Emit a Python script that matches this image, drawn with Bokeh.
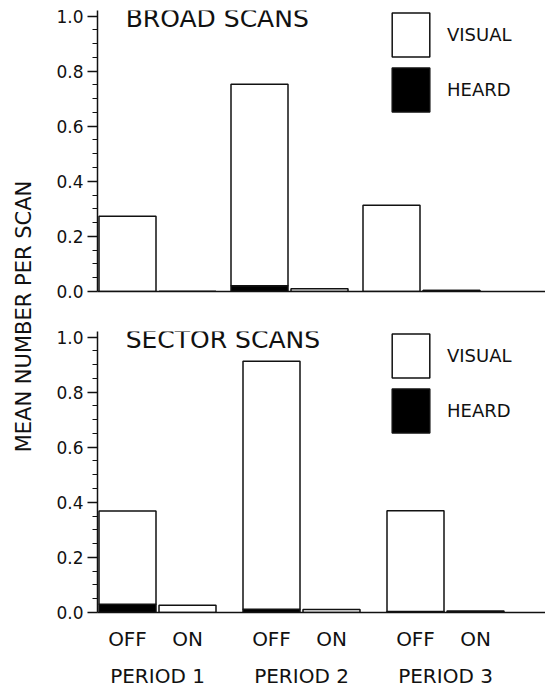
import math

from bokeh.core.properties import value
from bokeh.embed import file_html
from bokeh.layouts import column, row
from bokeh.models import (ColumnDataSource, FixedTicker, Label, Legend,
                          LegendItem, LinearAxis, PrintfTickFormatter, Range1d)
from bokeh.plotting import figure
from bokeh.resources import INLINE

# ---- data -------------------------------------------------------------
periods = ["PERIOD 1", "PERIOD 2", "PERIOD 3"]
states = ["OFF", "ON"]

# mean number per scan, in bar order: P1 OFF, P1 ON, P2 OFF, P2 ON, P3 OFF, P3 ON
broad_visual = [0.273, 0.0, 0.731, 0.010, 0.313, 0.0]
broad_heard = [0.0, 0.0, 0.021, 0.0, 0.0, 0.004]
sector_visual = [0.338, 0.026, 0.900, 0.011, 0.365, 0.005]
sector_heard = [0.030, 0.0, 0.012, 0.0, 0.004, 0.0]

y_ticks = [0.0, 0.2, 0.4, 0.6, 0.8, 1.0]

# ---- style ------------------------------------------------------------
FONT = "DejaVu Sans"
INK = "#111111"
UNIT_PX = 60          # pixels per bar slot
FRAME_W = 448
FRAME_H = 281
BAR_W = 0.95


def bar_centers(step):
    return [round(g * step + s + 0.5, 3) for g in range(len(periods)) for s in range(len(states))]


def group_centers(step):
    return [round(g * step + 1.0, 3) for g in range(len(periods))]


def make_panel(title, visual, heard, step, with_labels, border_top, border_bottom):
    xs = bar_centers(step)
    totals = [h + v for h, v in zip(heard, visual)]
    src = ColumnDataSource(dict(x=xs, heard=heard, total=totals))

    p = figure(frame_width=FRAME_W, frame_height=FRAME_H,
               x_range=Range1d(0, FRAME_W / UNIT_PX), y_range=Range1d(0, 1.02),
               x_axis_type=None, y_axis_type=None,
               output_backend="svg", toolbar_location=None,
               min_border_left=52, min_border_right=0,
               min_border_top=border_top, min_border_bottom=border_bottom)
    p.outline_line_color = None
    p.background_fill_color = "white"

    minor = [round(i * 0.05, 2) for i in range(21) if i % 4]
    yaxis = LinearAxis(ticker=FixedTicker(ticks=y_ticks, minor_ticks=minor),
                       formatter=PrintfTickFormatter(format="%.1f"),
                       axis_line_width=1.5, axis_line_color=INK,
                       major_tick_out=10, major_tick_in=0, major_tick_line_width=1.5,
                       major_tick_line_color=INK,
                       minor_tick_out=5, minor_tick_in=0, minor_tick_line_color=INK,
                       major_label_standoff=4,
                       major_label_text_font=FONT, major_label_text_font_size="17px",
                       major_label_text_color=INK)
    p.add_layout(yaxis, "left")

    if with_labels:
        xaxis = LinearAxis(ticker=FixedTicker(ticks=xs),
                           major_label_overrides={x: states[i % 2] for i, x in enumerate(xs)},
                           axis_line_width=1.5, axis_line_color=INK,
                           major_tick_out=0, major_tick_in=0, minor_tick_out=0, minor_tick_in=0,
                           major_label_standoff=14,
                           major_label_text_font=FONT, major_label_text_font_size="20px",
                           major_label_text_color=INK)
        p.add_layout(xaxis, "below")
        gc = group_centers(step)
        gaxis = LinearAxis(ticker=FixedTicker(ticks=gc),
                           major_label_overrides={x: periods[i] for i, x in enumerate(gc)},
                           axis_line_color=None,
                           major_tick_out=0, major_tick_in=0, minor_tick_out=0, minor_tick_in=0,
                           major_label_standoff=10,
                           major_label_text_font=FONT, major_label_text_font_size="20px",
                           major_label_text_color=INK)
        p.add_layout(gaxis, "below")
    else:
        xaxis = LinearAxis(ticker=FixedTicker(ticks=[]),
                           axis_line_width=1.5, axis_line_color=INK,
                           major_tick_out=0, major_tick_in=0, minor_tick_out=0, minor_tick_in=0,
                           major_label_text_font_size="0px")
        p.add_layout(xaxis, "below")

    r_heard = p.vbar(x="x", width=BAR_W, bottom=0, top="heard", source=src,
                     fill_color="black", line_color=INK, line_width=1.5)
    r_vis = p.vbar(x="x", width=BAR_W, bottom="heard", top="total", source=src,
                   fill_color="white", line_color=INK, line_width=1.5)

    # legend swatches are inset 10% inside their slot, so the slots are sized up
    legend = Legend(items=[LegendItem(label="VISUAL", renderers=[r_vis]),
                           LegendItem(label="HEARD", renderers=[r_heard])],
                    location=(290, 174), orientation="vertical",
                    glyph_width=47, glyph_height=55, spacing=-3, padding=0, margin=0,
                    label_standoff=13, border_line_alpha=0, background_fill_alpha=0,
                    label_text_font=FONT, label_text_font_size="18px",
                    label_text_color=INK)
    p.add_layout(legend)

    p.add_layout(Label(x=0.47, y=0.99, text=title, text_font=FONT,
                       text_font_size="25px", text_color=INK,
                       text_align="left", text_baseline="alphabetic"))
    return p


top = make_panel("BROAD SCANS", broad_visual, broad_heard, 2.2, False, 10, 20)
bottom = make_panel("SECTOR SCANS", sector_visual, sector_heard, 2.4, True, 20, 70)

# shared y-axis title drawn in a narrow strip on the left
side = figure(width=45, height=687, x_range=Range1d(0, 45), y_range=Range1d(0, 687),
              x_axis_type=None, y_axis_type=None, output_backend="svg",
              toolbar_location=None, min_border=0)
side.outline_line_color = None
side.add_layout(Label(x=23, y=371, text="MEAN NUMBER PER SCAN", angle=math.pi / 2,
                      text_font=FONT, text_font_size="21px", text_color=INK,
                      text_align="center", text_baseline="middle"))

layout = row(side, column(top, bottom))

with open("out.html", "w") as f:
    f.write(file_html(layout, INLINE))
